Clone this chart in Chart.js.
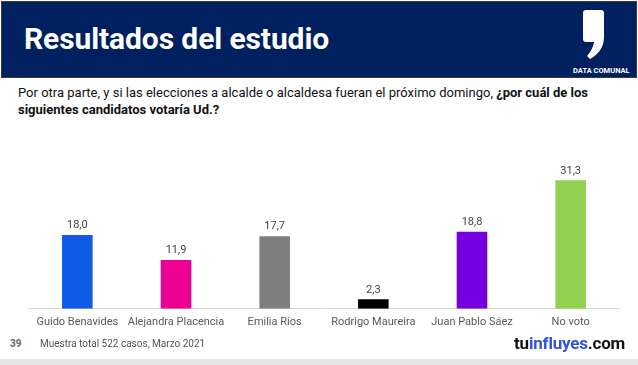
<!DOCTYPE html>
<html>
<head>
<meta charset="utf-8">
<script src="https://cdn.jsdelivr.net/npm/chart.js@4"></script>
<style>
    body { margin: 0; width: 638px; height: 365px; background: #fff; position: relative; overflow: hidden; font-family: Roboto, "Open Sans", sans-serif; }
    .header { position: absolute; left: 1px; top: 1px; width: 634px; height: 75px; background: #002060; border: 1px solid #3a3a3a; }
    .title { position: absolute; left: 24px; top: 21px; color: #fff; font-size: 30px; font-weight: bold; letter-spacing: -0.1px; }
    .logo { position: absolute; left: 580px; top: 9px; }
    .brand { position: absolute; left: 573px; top: 66px; color: #fff; font-size: 7.5px; font-weight: bold; }
    .question { position: absolute; left: 18px; top: 84px; width: 600px; font-size: 13px; line-height: 17px; color: #111; }
    .question b { font-weight: bold; }
    #wrap { position: absolute; left: 28px; top: 120px; width: 592px; height: 216px; }
    .page { position: absolute; left: 10px; top: 338px; font-size: 10px; font-weight: bold; color: #666; }
    .note { position: absolute; left: 40px; top: 338px; font-size: 10px; color: #555; }
    .site { position: absolute; left: 514px; top: 333px; font-size: 17px; font-weight: bold; color: #111; letter-spacing: -0.2px; }
    .site span { color: #2f55d4; }
    .foot { position: absolute; left: 0; top: 359px; width: 638px; height: 6px; background: #e6e6e6; }
</style>
</head>
<body>
<div class="header"></div>
<div class="title">Resultados del estudio</div>
<svg class="logo" width="26" height="52" viewBox="0 0 26 52">
    <path d="M6 1 H21 Q24 1 24 4 V28 Q24 42 10 50 L7 47 Q13 40 14 33 H6 Q3 33 3 30 V4 Q3 1 6 1 Z" fill="#fff"/>
</svg>
<div class="brand">DATA COMUNAL</div>
<div class="question">Por otra parte, y si las elecciones a alcalde o alcaldesa fueran el próximo domingo, <b>¿por cuál de los siguientes candidatos votaría Ud.?</b></div>
<div id="wrap"><canvas id="chart"></canvas></div>
<div class="page">39</div>
<div class="note">Muestra total 522 casos, Marzo 2021</div>
<div class="site">tu<span>influyes</span>.com</div>
<div class="foot"></div>
<script>
const categories = ['Guido Benavides', 'Alejandra Placencia', 'Emilia Ríos', 'Rodrigo Maureira', 'Juan Pablo Sáez', 'No voto'];
const values = [18.0, 11.9, 17.7, 2.3, 18.8, 31.3];
const barColors = ['#0f5ae6', '#ec0094', '#7f7f7f', '#000000', '#7400e0', '#92d050'];

// value labels above each bar
const valueLabels = {
    id: 'valueLabels',
    afterDatasetsDraw(chart) {
        const ctx = chart.ctx;
        const meta = chart.getDatasetMeta(0);
        ctx.save();
        ctx.font = '11px Roboto, sans-serif';
        ctx.fillStyle = '#404040';
        ctx.textAlign = 'center';
        ctx.textBaseline = 'bottom';
        meta.data.forEach((bar, i) => {
            ctx.fillText(values[i].toFixed(1).replace('.', ','), bar.x, bar.y - 4);
        });
        ctx.restore();
    }
};

new Chart(document.getElementById('chart').getContext('2d'), {
    type: 'bar',
    data: {
        labels: categories,
        datasets: [{
            data: values,
            backgroundColor: barColors,
            barPercentage: 0.31,
            categoryPercentage: 1
        }]
    },
    options: {
        responsive: true,
        maintainAspectRatio: false,
        animation: false,
        layout: { padding: 0 },
        plugins: {
            legend: { display: false },
            tooltip: { enabled: false }
        },
        scales: {
            x: {
                grid: { display: false, drawTicks: false },
                border: { color: '#d9d9d9', width: 1 },
                ticks: {
                    color: '#595959',
                    font: { family: 'Roboto, sans-serif', size: 11 },
                    padding: 7,
                    maxRotation: 0,
                    autoSkip: false
                }
            },
            y: {
                display: false,
                min: 0,
                max: 46
            }
        }
    },
    plugins: [valueLabels]
});
</script>
</body>
</html>
